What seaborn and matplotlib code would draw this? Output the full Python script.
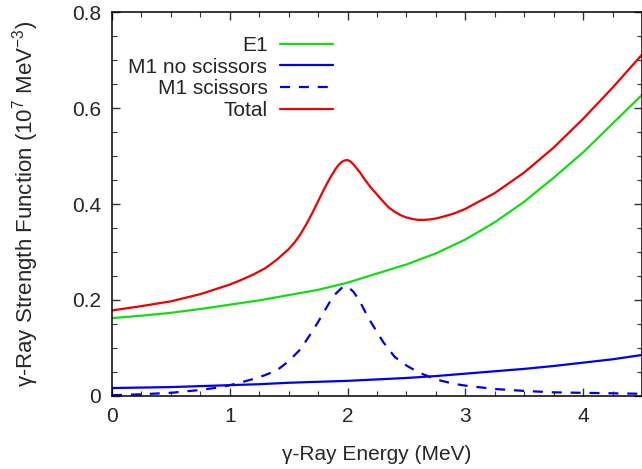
import numpy as np
import pandas as pd
import matplotlib
matplotlib.use("Agg")
import matplotlib.pyplot as plt
from matplotlib.ticker import MultipleLocator
import seaborn as sns

# E1 strength (green)
e1_energy = [0.0, 0.25, 0.5, 0.75, 1.0, 1.25, 1.5, 1.75, 2.0, 2.25, 2.5,
             2.75, 3.0, 3.25, 3.5, 3.75, 4.0, 4.25, 4.5]
e1_strength = [0.162, 0.167, 0.173, 0.181, 0.190, 0.199, 0.210, 0.221, 0.236,
               0.255, 0.274, 0.297, 0.326, 0.362, 0.405, 0.455, 0.508, 0.568,
               0.628]

# M1 without the scissors mode (solid blue)
m1_energy = [0.0, 0.25, 0.5, 0.75, 1.0, 1.25, 1.5, 1.75, 2.0, 2.25, 2.5,
             2.75, 3.0, 3.25, 3.5, 3.75, 4.0, 4.25, 4.5]
m1_strength = [0.016, 0.017, 0.018, 0.020, 0.022, 0.024, 0.027, 0.029, 0.031,
               0.034, 0.037, 0.041, 0.046, 0.051, 0.056, 0.062, 0.069, 0.076,
               0.085]

# M1 scissors resonance (dashed blue)
sc_energy = [0.0, 0.25, 0.5, 0.75, 0.9, 1.0, 1.1, 1.2, 1.3, 1.4, 1.5, 1.6,
             1.7, 1.75, 1.8, 1.85, 1.9, 1.95, 2.0, 2.05, 2.1, 2.15, 2.2, 2.3,
             2.4, 2.5, 2.6, 2.75, 2.9, 3.0, 3.25, 3.5, 3.75, 4.0, 4.25, 4.5]
sc_strength = [0.001, 0.003, 0.006, 0.012, 0.017, 0.022, 0.028, 0.035, 0.043,
               0.053, 0.072, 0.097, 0.134, 0.154, 0.175, 0.196, 0.213, 0.225,
               0.228, 0.217, 0.199, 0.175, 0.153, 0.113, 0.081, 0.063, 0.049,
               0.034, 0.025, 0.021, 0.014, 0.010, 0.007, 0.006, 0.005, 0.004]

# Total strength (red)
tot_energy = [0.0, 0.25, 0.5, 0.75, 0.9, 1.0, 1.1, 1.2, 1.3, 1.35, 1.4, 1.45,
              1.5, 1.55, 1.6, 1.65, 1.7, 1.75, 1.8, 1.85, 1.9, 1.925, 1.95,
              1.975, 2.0, 2.025, 2.05, 2.1, 2.15, 2.2, 2.25, 2.3, 2.35, 2.4,
              2.45, 2.5, 2.55, 2.6, 2.65, 2.7, 2.75, 2.8, 2.9, 3.0, 3.25, 3.5,
              3.75, 4.0, 4.25, 4.5]
tot_strength = [0.178, 0.187, 0.197, 0.212, 0.224, 0.232, 0.242, 0.253, 0.266,
                0.275, 0.284, 0.295, 0.306, 0.320, 0.337, 0.358, 0.381, 0.406,
                0.431, 0.454, 0.474, 0.482, 0.488, 0.491, 0.492, 0.489, 0.483,
                0.468, 0.450, 0.434, 0.420, 0.406, 0.393, 0.384, 0.377, 0.372,
                0.369, 0.367, 0.367, 0.368, 0.370, 0.373, 0.380, 0.390, 0.423,
                0.466, 0.518, 0.578, 0.643, 0.712]

labels = ["E1", "M1 no scissors", "M1 scissors", "Total"]
colors = ["#11dd11", "#0000ee", "#0000ee", "#ee0000"]

frames = []
for name, xs, ys in zip(labels,
                        [e1_energy, m1_energy, sc_energy, tot_energy],
                        [e1_strength, m1_strength, sc_strength, tot_strength]):
    frames.append(pd.DataFrame({"energy": xs, "strength": ys, "component": name}))
df = pd.concat(frames, ignore_index=True)

sns.set_style("ticks")
plt.rcParams["font.family"] = ["Liberation Sans", "DejaVu Sans"]
plt.rcParams["mathtext.fontset"] = "custom"
plt.rcParams["mathtext.rm"] = "Liberation Sans"
plt.rcParams["mathtext.it"] = "Liberation Sans:italic"
plt.rcParams["mathtext.default"] = "regular"
plt.rcParams["lines.solid_joinstyle"] = "round"

fig = plt.figure(figsize=(6.42, 4.69), dpi=100)
ax = fig.add_axes([112 / 642, 1 - 395.7 / 469, 1 - 112 / 642, (395.7 - 12.5) / 469])

sns.lineplot(
    data=df, x="energy", y="strength", hue="component", style="component",
    hue_order=labels, style_order=labels,
    palette=dict(zip(labels, colors)),
    dashes={"E1": "", "M1 no scissors": "", "M1 scissors": (4.5, 4.0), "Total": ""},
    estimator=None, sort=True, linewidth=1.6, ax=ax,
)

ax.set_xlim(0, 4.5)
ax.set_ylim(0, 0.8)
ax.xaxis.set_major_locator(MultipleLocator(1))
ax.xaxis.set_minor_locator(MultipleLocator(0.25))
ax.yaxis.set_major_locator(MultipleLocator(0.2))
ax.yaxis.set_minor_locator(MultipleLocator(0.05))
ax.set_xticks([0, 1, 2, 3, 4])
ax.set_xticklabels(["0", "1", "2", "3", "4"])
ax.set_yticks([0, 0.2, 0.4, 0.6, 0.8])
ax.set_yticklabels(["0", "0.2", "0.4", "0.6", "0.8"])

ax.tick_params(which="both", direction="in", top=True, right=True,
               labelsize=15, color="#333333")
ax.tick_params(which="major", length=6, width=1, pad=8)
ax.tick_params(which="minor", length=3.5, width=0.8)
for s in ax.spines.values():
    s.set_linewidth(1.1)
    s.set_color("black")

ax.set_xlabel("γ-Ray Energy (MeV)", fontsize=15, labelpad=14)
ax.set_ylabel("γ-Ray Strength Function (10$^{7}$ MeV$^{-3}$)", fontsize=16,
              labelpad=22)

handles, _ = ax.get_legend_handles_labels()
leg = ax.legend(handles[-4:], labels, loc="upper right",
                bbox_to_anchor=(333 / 642, 1 - 36 / 469),
                bbox_transform=fig.transFigure, frameon=False,
                markerfirst=False, fontsize=15, handlelength=2.55,
                handletextpad=0.6, labelspacing=0.13, borderpad=0,
                borderaxespad=0)

fig.savefig("out.png", dpi=100)
